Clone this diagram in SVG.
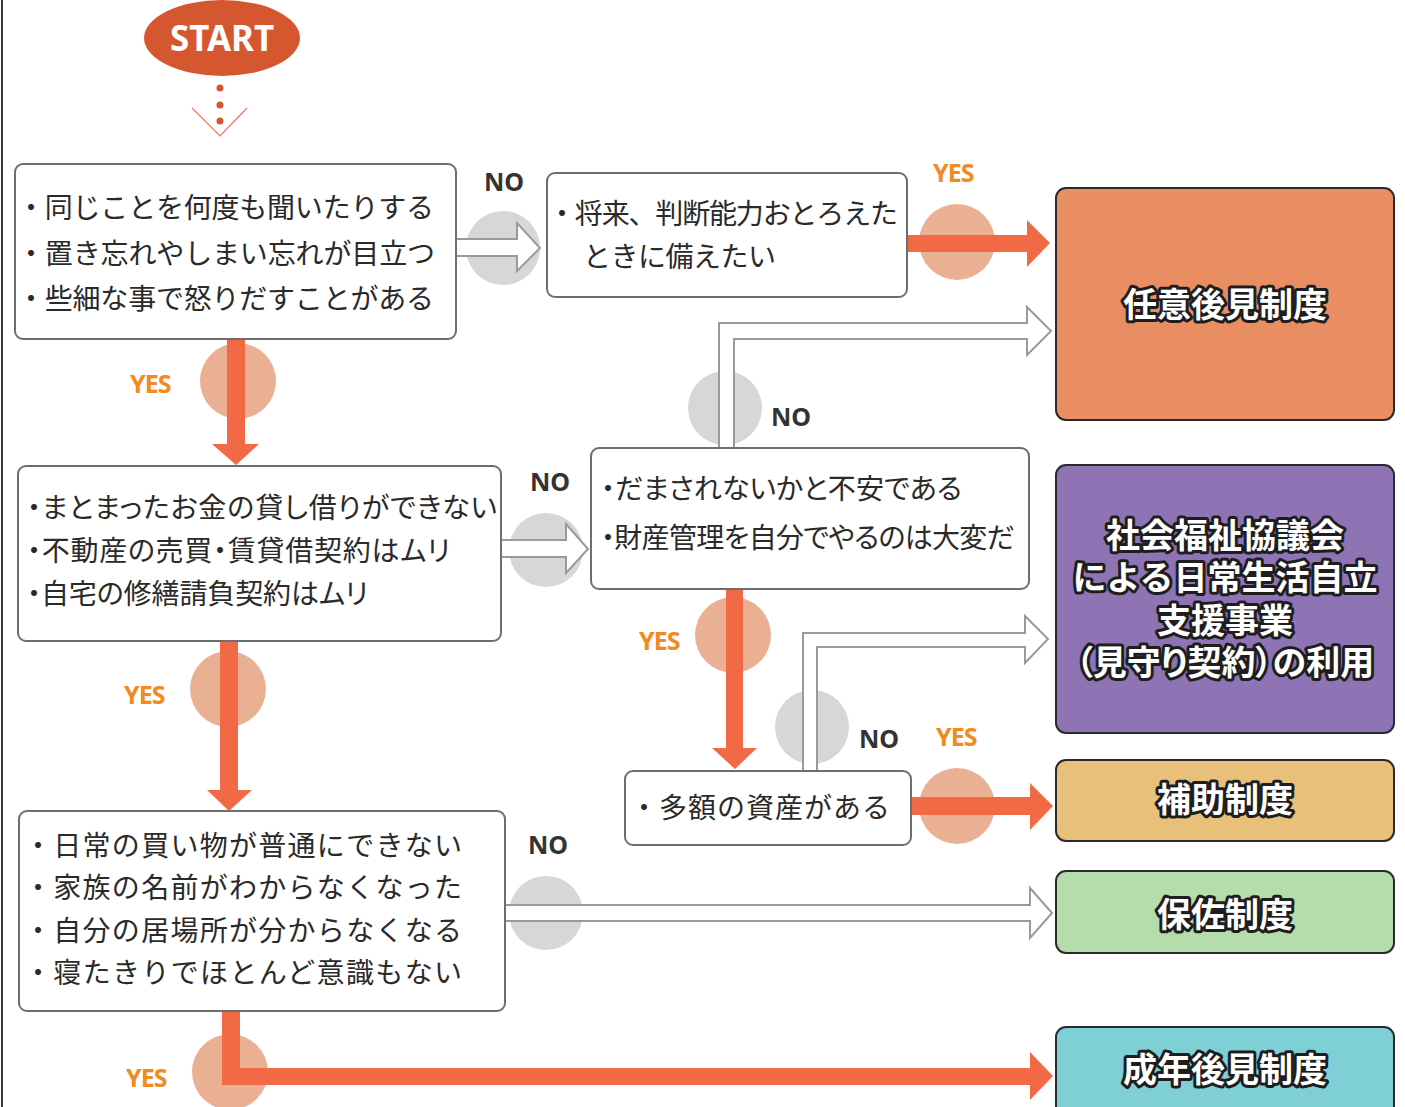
<svg xmlns="http://www.w3.org/2000/svg" width="1405" height="1107" viewBox="0 0 1405 1107">
<style>
.box{fill:#fff;stroke:#6e6e6e;stroke-width:2}
.q{font-family:"Noto Sans CJK JP","Noto Sans",sans-serif;font-size:28px;fill:#2a2a2a}
.p{font-feature-settings:"palt"}
.out{stroke:#2a2a2a;stroke-width:2}
.ot{font-family:"Noto Sans CJK JP","Noto Sans",sans-serif;font-weight:bold;font-size:34px;fill:#fff;stroke:#1e1e1e;stroke-width:6;stroke-linejoin:round;paint-order:stroke;text-anchor:middle}
.no{font-family:"Noto Sans","Open Sans",sans-serif;font-weight:bold;font-size:25px;fill:#333}
.yes{font-family:"Noto Sans","Open Sans",sans-serif;font-weight:bold;font-size:25px;fill:#f28a22;letter-spacing:-1px}
.gc{fill:#d9d6d6}
.oc{fill:#eab093}
.ha{fill:#fff;stroke:#9a9a9a;stroke-width:2;stroke-linejoin:miter}
.oa{fill:#f26a45}
</style>
<rect x="0" y="0" width="1405" height="1107" fill="#fff"/>
<line x1="2" y1="0" x2="2" y2="1107" stroke="#3a3a3a" stroke-width="2"/>

<g id="start">
<ellipse cx="222" cy="38" rx="78" ry="38" fill="#d4572f"/>
<text x="222" y="51" text-anchor="middle" font-family="Noto Sans, Open Sans, sans-serif" font-weight="bold" font-size="36" fill="#fff" textLength="104" lengthAdjust="spacingAndGlyphs">START</text>
<circle cx="220" cy="88" r="3.5" fill="#d4572f"/>
<circle cx="220" cy="105" r="3.5" fill="#d4572f"/>
<circle cx="220" cy="121" r="3.5" fill="#d4572f"/>
<polyline points="192,108 220,136 247,108" fill="none" stroke="#e57b58" stroke-width="1.2"/>
</g>

<g id="connectors">
<circle class="gc" cx="503" cy="248" r="37"/>
<circle class="oc" cx="957" cy="242" r="38"/>
<circle class="oc" cx="238" cy="381" r="38"/>
<circle class="gc" cx="725" cy="408" r="37"/>
<circle class="gc" cx="546" cy="550" r="37"/>
<circle class="oc" cx="733" cy="635" r="38"/>
<circle class="oc" cx="228" cy="689" r="38"/>
<circle class="gc" cx="812" cy="727" r="37"/>
<circle class="oc" cx="957" cy="806" r="38"/>
<circle class="gc" cx="546" cy="913" r="37"/>
<circle class="oc" cx="230" cy="1072" r="38"/>

<path class="ha" d="M457,239 H517 V223 L540,248 L517,271 V256 H457"/>
<path class="ha" d="M502,540 H566 V524 L588,549 L566,573 V557 H502"/>
<path class="ha" d="M719,447 V323 H1027 V307 L1051,331 L1027,355 V339 H734 V447"/>
<path class="ha" d="M803,771 V633 H1025 V616 L1048,639 L1025,663 V647 H817 V771"/>
<path class="ha" d="M506,905 H1030 V888 L1052,913 L1030,938 V921 H506"/>

<path class="oa" d="M908,235 H1027 V220 L1050,243 L1027,267 V252 H908 Z"/>
<path class="oa" d="M227,340 H245 V444 H259 L236,465 L212,444 H227 Z"/>
<path class="oa" d="M726,590 H743 V748 H757 L735,769 L712,748 H726 Z"/>
<path class="oa" d="M220,642 H238 V790 H252 L229,811 L207,790 H220 Z"/>
<path class="oa" d="M912,797 H1030 V783 L1053,806 L1030,830 V815 H912 Z"/>
<path class="oa" d="M222,1012 H240 V1068 H1030 V1052 L1053,1076 L1030,1100 V1085 H222 Z"/>

<text class="no" x="484" y="191">NO</text>
<text class="yes" x="933" y="182">YES</text>
<text class="yes" x="130" y="393">YES</text>
<text class="no" x="771" y="426">NO</text>
<text class="no" x="530" y="491">NO</text>
<text class="yes" x="639" y="650">YES</text>
<text class="yes" x="124" y="704">YES</text>
<text class="no" x="859" y="748">NO</text>
<text class="yes" x="936" y="746">YES</text>
<text class="no" x="528" y="854">NO</text>
<text class="yes" x="126" y="1087">YES</text>
</g>

<g id="q1">
<rect class="box" x="15" y="164" width="441" height="175" rx="8"/>
<text class="q" x="17" y="218" textLength="417">・同じことを何度も聞いたりする</text>
<text class="q" x="17" y="264" textLength="418">・置き忘れやしまい忘れが目立つ</text>
<text class="q" x="17" y="309" textLength="417">・些細な事で怒りだすことがある</text>
</g>

<g id="q2">
<rect class="box" x="547" y="173" width="360" height="124" rx="8"/>
<text class="q" x="548" y="224" textLength="350">・将来、判断能力おとろえた</text>
<text class="q" x="583" y="267" textLength="193">ときに備えたい</text>
</g>

<g id="q3">
<rect class="box" x="18" y="466" width="483" height="175" rx="8"/>
<text class="q p" x="27" y="518" font-size="27" textLength="470">・まとまったお金の貸し借りができない</text>
<text class="q p" x="27" y="561" font-size="27" textLength="423">・不動産の売買・賃貸借契約はムリ</text>
<text class="q p" x="27" y="604" font-size="27" textLength="341">・自宅の修繕請負契約はムリ</text>
</g>

<g id="q4">
<rect class="box" x="591" y="448" width="438" height="141" rx="8"/>
<text class="q p" x="601" y="499" font-size="27" textLength="361">・だまされないかと不安である</text>
<text class="q p" x="601" y="548" font-size="27" textLength="414">・財産管理を自分でやるのは大変だ</text>
</g>

<g id="q5">
<rect class="box" x="625" y="771" width="286" height="74" rx="8"/>
<text class="q" x="630" y="818" textLength="260">・多額の資産がある</text>
</g>

<g id="q6">
<rect class="box" x="19" y="811" width="486" height="200" rx="8"/>
<text class="q" x="24" y="856" font-size="29" textLength="438">・日常の買い物が普通にできない</text>
<text class="q" x="24" y="898" font-size="29" textLength="438">・家族の名前がわからなくなった</text>
<text class="q" x="24" y="941" font-size="29" textLength="438">・自分の居場所が分からなくなる</text>
<text class="q" x="24" y="983" font-size="29" textLength="438">・寝たきりでほとんど意識もない</text>
</g>

<g id="r1">
<rect class="out" x="1056" y="188" width="338" height="232" rx="10" fill="#e98e63"/>
<text class="ot" x="1225" y="317">任意後見制度</text>
</g>

<g id="r2">
<rect class="out" x="1056" y="465" width="338" height="268" rx="10" fill="#8e74b4"/>
<text class="ot" font-size="32"><tspan x="1225" y="548">社会福祉協議会</tspan><tspan x="1225" y="590">による日常生活自立</tspan><tspan x="1225" y="633">支援事業</tspan><tspan x="1225" y="675" class="p">（見守り契約）の利用</tspan></text>
</g>

<g id="r3">
<rect class="out" x="1056" y="760" width="338" height="81" rx="10" fill="#e8c07a"/>
<text class="ot" x="1225" y="812">補助制度</text>
</g>

<g id="r4">
<rect class="out" x="1056" y="871" width="338" height="82" rx="10" fill="#b5dcab"/>
<text class="ot" x="1225" y="927">保佐制度</text>
</g>

<g id="r5">
<rect class="out" x="1056" y="1027" width="338" height="100" rx="10" fill="#7ecfd6"/>
<text class="ot" x="1225" y="1082">成年後見制度</text>
</g>
</svg>
